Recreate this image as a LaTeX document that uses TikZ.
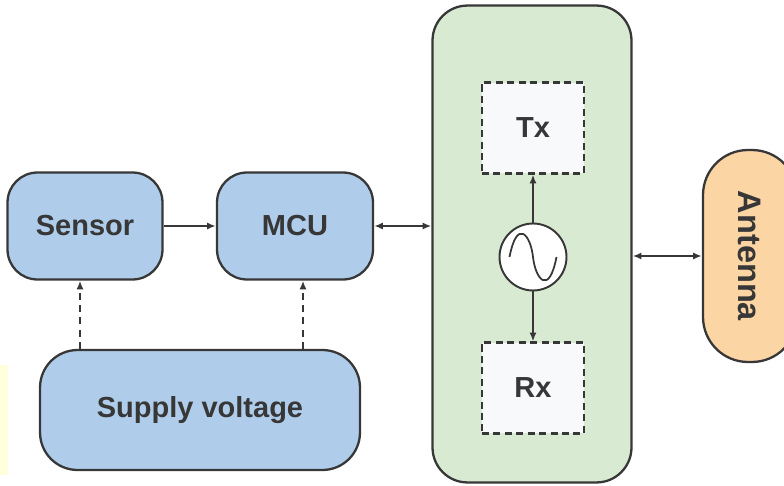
\documentclass[tikz,border=0pt]{standalone}
\usepackage{fontspec}
\setmainfont{Liberation Sans}
\usetikzlibrary{arrows.meta}
\definecolor{blockblue}{RGB}{175,205,235}
\definecolor{radiogreen}{RGB}{217,234,211}
\definecolor{antorange}{RGB}{252,213,165}
\definecolor{edgegray}{RGB}{55,55,55}
\definecolor{innergray}{RGB}{248,249,250}
\definecolor{stripyellow}{RGB}{255,255,222}
\begin{document}
\begin{tikzpicture}[x=0.02cm, y=-0.02cm,
    block/.style={draw=edgegray, line width=1.3pt, fill=blockblue, rounded corners=0.6cm,
        font=\fontsize{16.5}{18}\selectfont\bfseries, text=edgegray},
    dashbox/.style={draw=edgegray, line width=1.2pt, dash pattern=on 4pt off 2.5pt, fill=innergray,
        minimum width=2.04cm, minimum height=1.82cm,
        font=\fontsize{16.5}{18}\selectfont\bfseries, text=edgegray},
    link/.style={draw=edgegray, line width=1pt, -{Latex[length=5pt,width=4pt]}},
    dlink/.style={link, {Latex[length=5pt,width=4pt]}-{Latex[length=5pt,width=4pt]}}]
    \useasboundingbox (0,0) rectangle (784,486);
    \clip (0,0) rectangle (784,486);
    % faint strip at left edge
    \fill[stripyellow] (0,365) rectangle (8,475);
    % Blocks
    \node[block, minimum width=3.1cm, minimum height=2.14cm] (sensor) at (85,226) {Sensor};
    \node[block, minimum width=3.12cm, minimum height=2.14cm] (mcu) at (295,226) {MCU};
    \node[block, minimum width=6.4cm, minimum height=2.4cm, rounded corners=0.75cm]
        (supply) at (200,410) {Supply voltage};
    % Radio module
    \node[draw=edgegray, line width=1.3pt, fill=radiogreen, rounded corners=0.7cm,
        minimum width=3.98cm, minimum height=9.54cm] (radio) at (532,244) {};
    \node[dashbox] (tx) at (533,128) {Tx};
    \node[dashbox] (rx) at (533,388) {Rx};
    \node[draw=edgegray, line width=1.1pt, fill=white, circle, minimum size=1.34cm]
        (osc) at (533,257) {};
    \draw[edgegray, line width=1pt] ([xshift=-0.47cm]osc.center)
        .. controls ([xshift=-0.32cm,yshift=0.78cm]osc.center) and ([xshift=-0.05cm,yshift=0.45cm]osc.center) .. (osc.center)
        .. controls ([xshift=0.05cm,yshift=-0.45cm]osc.center) and ([xshift=0.32cm,yshift=-0.78cm]osc.center) .. ([xshift=0.47cm]osc.center);
    % Antenna
    \node[draw=edgegray, line width=1.3pt, fill=antorange, rounded corners=0.9cm, rotate=-90,
        minimum width=4.24cm, minimum height=1.88cm,
        font=\fontsize{18.5}{20}\selectfont\bfseries, text=edgegray] (antenna) at (750,256) {Antenna};
    % Arrows
    \draw[link] (sensor) -- (mcu);
    \draw[dlink] (mcu.east) -- (mcu.east -| radio.west);
    \draw[dlink] (antenna.south -| radio.east) -- (antenna.south);
    \draw[link] (osc) -- (tx);
    \draw[link] (osc) -- (rx);
    \draw[link, dash pattern=on 4pt off 3pt] (supply.north -| sensor.south) ++(-5,0) coordinate (s1) -- (s1 |- sensor.south);
    \draw[link, dash pattern=on 4pt off 3pt] (supply.north -| mcu.south) ++(8,0) coordinate (s2) -- (s2 |- mcu.south);
\end{tikzpicture}
\end{document}
